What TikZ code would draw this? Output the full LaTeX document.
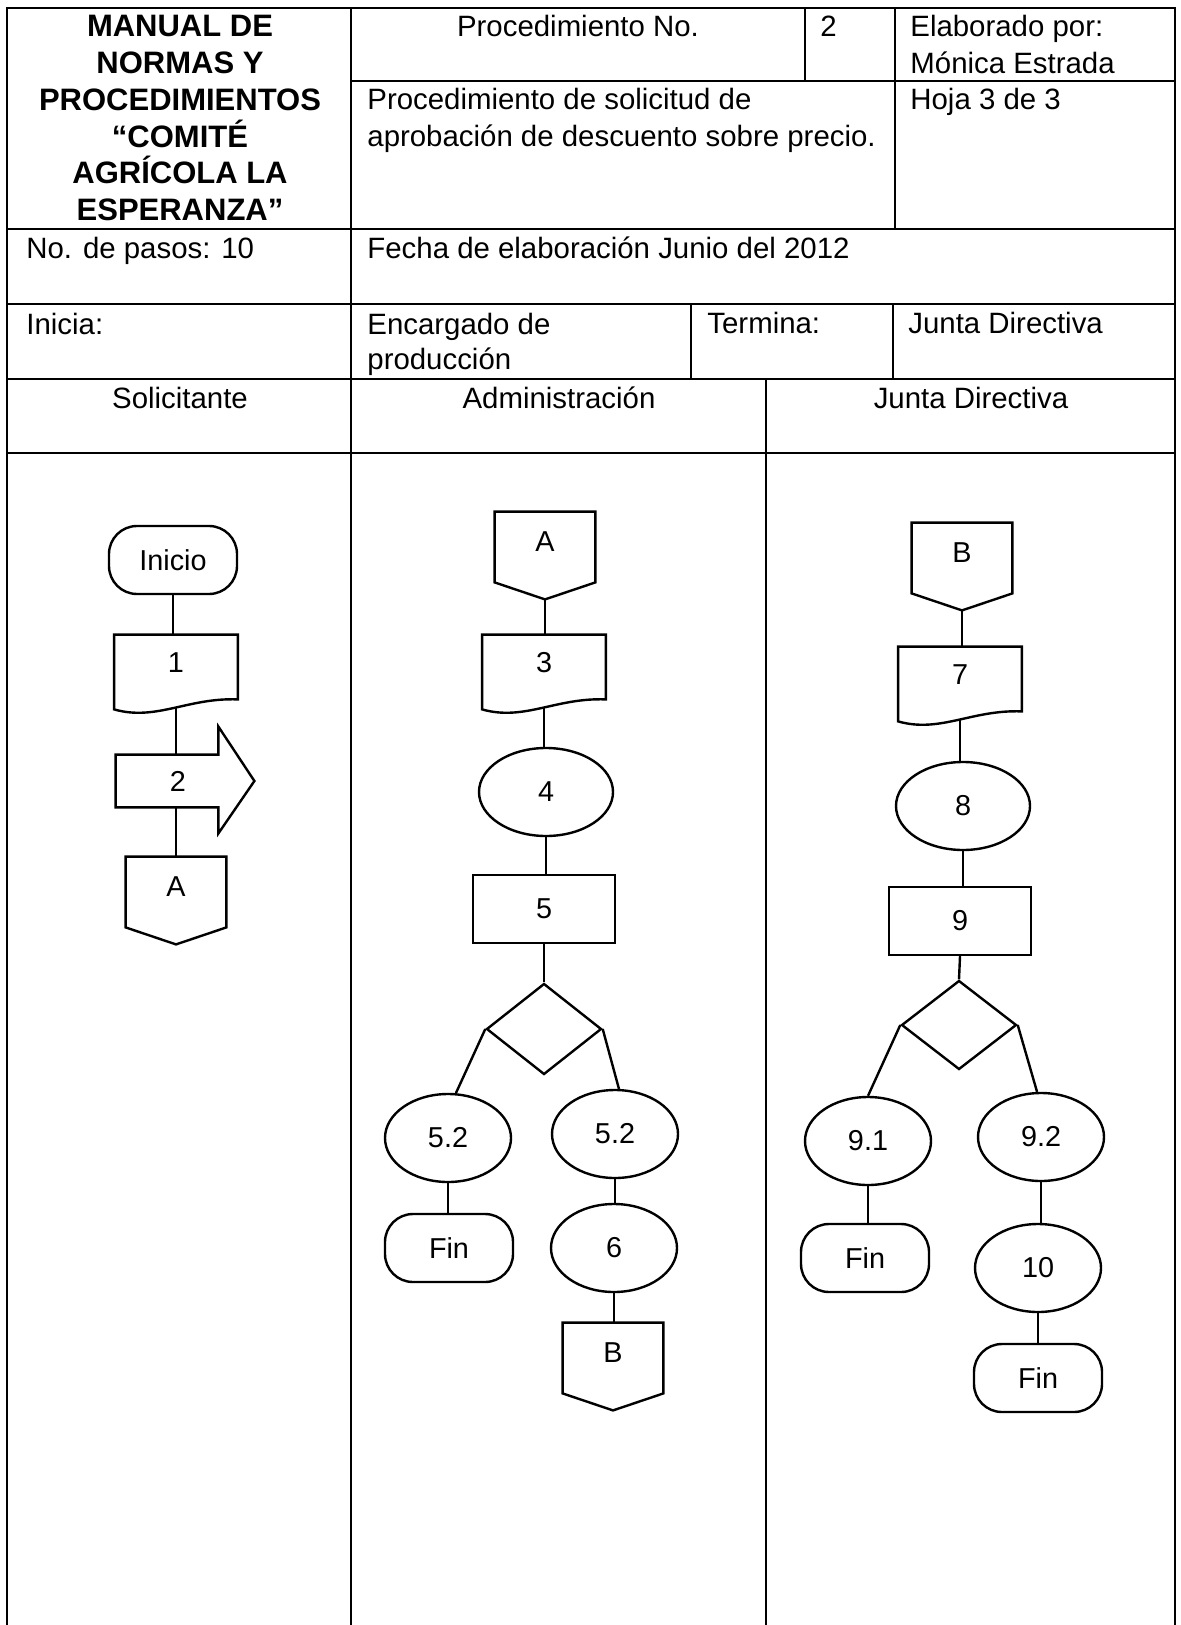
\documentclass[tikz,border=0pt]{standalone}
\usepackage{fontspec}
\setmainfont{Liberation Sans}
\usetikzlibrary{shapes.geometric,calc}

\newcommand{\cellfont}{\fontsize{14.7}{18.5}\selectfont}
\newcommand{\headfont}{\fontsize{15.5}{18.5}\selectfont\bfseries}
\newcommand{\flowfont}{\fontsize{14.4}{18}\selectfont}

\tikzset{
  rule/.style={line width=1.1pt},
  link/.style={line width=1.2pt},
  cell/.style={font=\cellfont, inner sep=0pt, anchor=base west},
  lanehead/.style={font=\cellfont, inner sep=0pt, anchor=base},
  terminal/.style={draw, line width=1.2pt, rectangle, rounded corners=14pt, minimum width=64pt, minimum height=34pt, font=\flowfont, inner sep=0pt},
  oval/.style={draw, line width=1.2pt, ellipse, minimum width=63pt, minimum height=44pt, font=\flowfont, inner sep=0pt},
  process/.style={draw, line width=1.2pt, rectangle, minimum width=71pt, minimum height=34pt, font=\flowfont, inner sep=0pt},
  decision/.style={draw, line width=1.2pt, diamond, minimum width=57.5pt, minimum height=45.5pt, inner sep=0pt},
  docbox/.style={rectangle, minimum width=61.5pt, minimum height=28pt, font=\flowfont, inner sep=0pt},
  pagebox/.style={rectangle, minimum width=50pt, minimum height=30pt, font=\flowfont, inner sep=0pt},
  arrowbox/.style={rectangle, minimum width=62pt, minimum height=26pt, font=\flowfont, inner sep=0pt},
}

\begin{document}
\begin{tikzpicture}[x=0.5pt,y=-0.5pt]
\useasboundingbox (0,0) rectangle (1180,1625);

% table frame
\draw[rule] (7,1625) -- (7,8) -- (1175,8) -- (1175,1625);
\draw[rule] (351,8) -- (351,1625);
\draw[rule] (766,379) -- (766,1625);
\draw[rule] (351,81) -- (1175,81);
\foreach \y in {229,304,379,453} \draw[rule] (7,\y) -- (1175,\y);
\draw[rule] (805,8) -- (805,81);
\draw[rule] (895,8) -- (895,229);
\draw[rule] (691,304) -- (691,379);
\draw[rule] (893,304) -- (893,379);

% header texts
\foreach \t [count=\i] in {MANUAL DE,NORMAS Y,PROCEDIMIENTOS,“COMITÉ,AGRÍCOLA LA,ESPERANZA”}
  \node[font=\headfont, inner sep=0pt, anchor=base] (hd\i) at (180,{36.8*\i}) {\t};
\node[lanehead] (pno) at (578,37) {Procedimiento No.};
\node[cell] (pnum) at (820,37) {2};
\node[cell] (elab) at (910,37) {Elaborado por:};
\node[cell] (elabn) at (910,74) {Mónica Estrada};
\node[cell] (proc1) at (367,110) {Procedimiento de solicitud de};
\node[cell] (proc2) at (367,147) {aprobación de descuento sobre precio.};
\node[cell] (hoja) at (910,110) {Hoja 3 de 3};
\node[cell] (pasos) at (26,259) {No. de pasos: 10};
\node[cell] (fecha) at (367,259) {Fecha de elaboración Junio del 2012};
\node[cell] (inicia) at (26,335) {Inicia:};
\node[cell] (enc1) at (367,335) {Encargado de};
\node[cell] (enc2) at (367,370) {producción};
\node[cell] (termina) at (707,334) {Termina:};
\node[cell] (termjd) at (908,334) {Junta Directiva};
\node[lanehead] (ln1) at (180,409) {Solicitante};
\node[lanehead] (ln2) at (559,409) {Administración};
\node[lanehead] (ln3) at (971,409) {Junta Directiva};

% Solicitante
\node[terminal] (ini) at (173,560) {Inicio};
\node[docbox] (d1) at (176,663) {1};
\node[arrowbox] (s2) at (178,781) {2};
\node[pagebox] (pa1) at (176,887) {A};

% Administracion
\node[pagebox] (pa2) at (545,542) {A};
\node[docbox] (d3) at (544,663) {3};
\node[oval, minimum width=67pt] (e4) at (546,792) {4};
\node[process] (r5) at (544,909) {5};
\node[decision] (q5) at (544,1029) {};
\node[oval] (e51) at (448,1138) {5.2};
\node[oval] (e52) at (615,1134) {5.2};
\node[terminal] (fin1) at (449,1248) {Fin};
\node[oval] (e6) at (614,1248) {6};
\node[pagebox] (pb2) at (613,1353) {B};

% Junta Directiva
\node[pagebox] (pb3) at (962,553) {B};
\node[docbox] (d7) at (960,675) {7};
\node[oval, minimum width=67pt] (e8) at (963,806) {8};
\node[process] (r9) at (960,921) {9};
\node[decision, minimum height=44.5pt] (q9) at (959,1025) {};
\node[oval] (e91) at (868,1141) {9.1};
\node[oval] (e92) at (1041,1137) {9.2};
\node[terminal] (fin2) at (865,1258) {Fin};
\node[oval] (e10) at (1038,1268) {10};
\node[terminal] (fin3) at (1038,1378) {Fin};

% outlines
\foreach \d in {d1,d3,d7}
  \draw[link] (\d.north west) -- (\d.north east) -- ($(\d.south east)+(0,8)$)
    .. controls ($(\d.south east)+(-50,6)$) and ($(\d.south west)+(42,30)$) .. ($(\d.south west)+(0,18)$) -- cycle;
\foreach \p in {pa1,pa2,pb2,pb3}
  \draw[link] (\p.north west) -- (\p.north east) -- ($(\p.south east)+(0,10)$)
    -- ($(\p.south)+(0,27)$) -- ($(\p.south west)+(0,10)$) -- cycle;
\draw[link] (s2.north west) -- ($(s2.north east)+(-22,0)$) -- ($(s2.north east)+(-22,-28)$)
  -- ($(s2.east)+(14,0)$) -- ($(s2.south east)+(-22,26)$) -- ($(s2.south east)+(-22,0)$)
  -- (s2.south west) -- cycle;

% connectors
\draw[link] (ini.south) -- (ini.south |- d1.north);
\draw[link] ($(d1.south)+(0,16)$) -- (d1.south |- s2.north);
\draw[link] (s2.south -| pa1.north) -- (pa1.north);

\draw[link] ($(pa2.south)+(0,27)$) -- (pa2.south |- d3.north);
\draw[link] ($(d3.south)+(0,16)$) -- (d3.south |- e4.north);
\draw[link] (e4.south) -- (e4.south |- r5.north);
\draw[link] (r5.south) -- (q5.north);
\draw[link] (q5.west) -- (e51.80);
\draw[link] (q5.east) -- (e52.85);
\draw[link] (e51.south) -- (e51.south |- fin1.north);
\draw[link] (e52.south) -- (e52.south |- e6.north);
\draw[link] (e6.south) -- (e6.south |- pb2.north);

\draw[link] ($(pb3.south)+(0,27)$) -- (pb3.south |- d7.north);
\draw[link] ($(d7.south)+(0,16)$) -- (d7.south |- e8.north);
\draw[link] (e8.south) -- (e8.south |- r9.north);
\draw[link] (r9.south) -- (q9.north);
\draw[link] (q9.west) -- (e91.north);
\draw[link] (q9.east) -- (e92.95);
\draw[link] (e91.south) -- (e91.south |- fin2.north);
\draw[link] (e92.south) -- (e92.south |- e10.north);
\draw[link] (e10.south) -- (e10.south |- fin3.north);
\end{tikzpicture}
\end{document}
